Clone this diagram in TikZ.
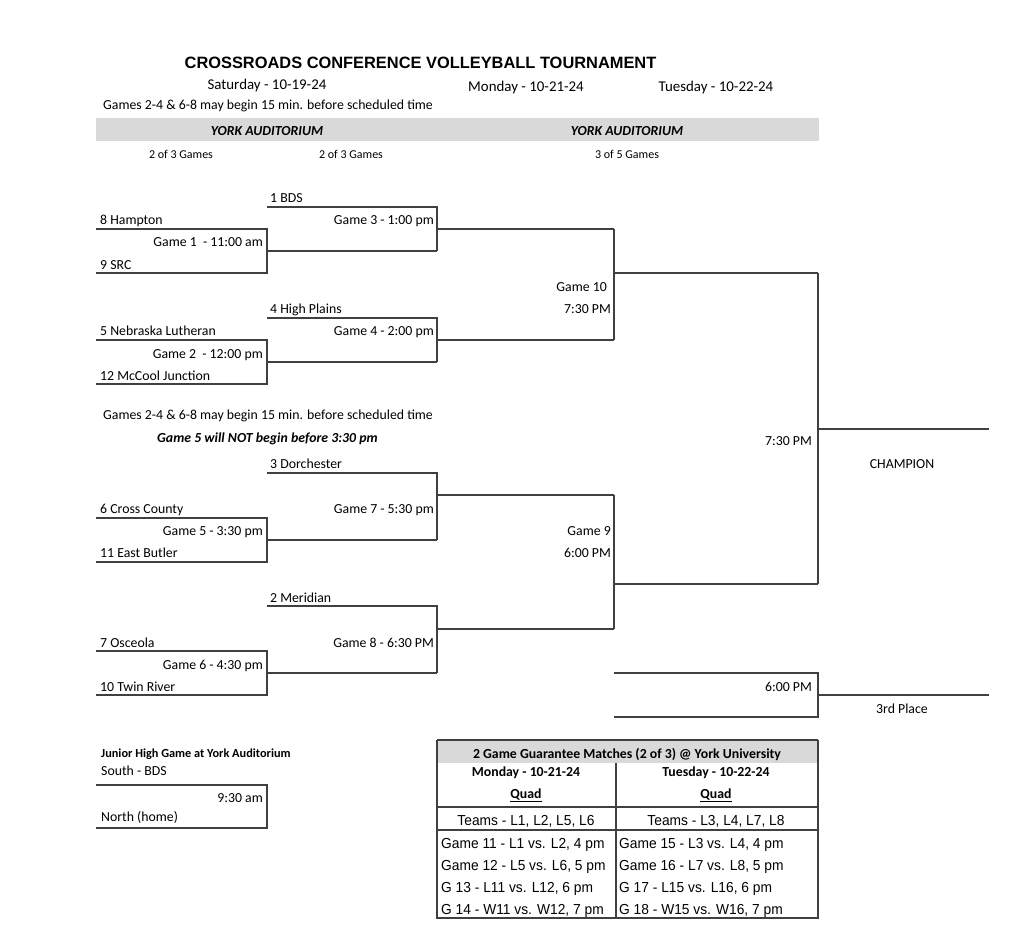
\documentclass[tikz,border=0pt]{standalone}
\usepackage{fontspec}
\setmainfont{Carlito}
\newfontfamily\arialfont{Liberation Sans}
\newfontfamily\arialnarrow[FakeStretch=0.95]{Liberation Sans}
\definecolor{bandgray}{HTML}{D9D9D9}
\definecolor{linegray}{HTML}{404040}
\begin{document}
\begin{tikzpicture}[x=1pt,y=-1pt,
  ln/.style={line width=1.1pt, draw=linegray},
  tx/.style={inner sep=0pt, font=\fontsize{13.8}{16}\selectfont},
  tl/.style={tx, anchor=base west},
  tr/.style={tx, anchor=base east},
  tc/.style={tx, anchor=base},
  dates/.style={inner sep=0pt, anchor=base, font=\fontsize{14.9}{17}\selectfont},
  small/.style={inner sep=0pt, anchor=base, font=\fontsize{12}{14}\selectfont},
  tab/.style={inner sep=0pt, font=\arialnarrow\fontsize{14.5}{17}\selectfont},
  tabl/.style={tab, anchor=base west},
  tabc/.style={tab, anchor=base},
  tabb/.style={tx, anchor=base, font=\bfseries\fontsize{13.8}{16}\selectfont}
]
\useasboundingbox (0,0) rectangle (1024,948);

% ---------- header ----------
\node[inner sep=0pt, anchor=base, font=\arialfont\bfseries\fontsize{16.4}{19}\selectfont] (title) at (420.5,68.7) {CROSSROADS CONFERENCE VOLLEYBALL TOURNAMENT};
\node[dates] (sat) at (267,89.5) {Saturday - 10-19-24};
\node[dates] (mon) at (526,91.7) {Monday - 10-21-24};
\node[dates] (tue) at (716,91.7) {Tuesday - 10-22-24};
\node[tl] (note1) at (103,109.3) {Games 2-4 \& 6-8 may begin 15 min. before scheduled time};
\fill[bandgray] (96,118) rectangle (819,141);
\node[tc, font=\bfseries\itshape\fontsize{13.8}{16}\selectfont] (york1) at (267,135.3) {YORK AUDITORIUM};
\node[tc, font=\bfseries\itshape\fontsize{13.8}{16}\selectfont] (york2) at (627,135.3) {YORK AUDITORIUM};
\node[small] (g3a) at (181,158.9) {2 of 3 Games};
\node[small] (g3b) at (351,158.9) {2 of 3 Games};
\node[small] (g5) at (627,158.9) {3 of 5 Games};

% ---------- top half bracket ----------
\draw[ln] (96,229) -- (267,229) -- (267,273) -- (96,273);
\draw[ln] (267,251) -- (437,251);
\draw[ln] (267,207) -- (437,207) -- (437,251);
\draw[ln] (437,229) -- (614,229);
\draw[ln] (96,340) -- (267,340) -- (267,384) -- (96,384);
\draw[ln] (267,362) -- (437,362);
\draw[ln] (267,318) -- (437,318) -- (437,362);
\draw[ln] (437,340) -- (614,340);
\draw[ln] (614,229) -- (614,340);
\draw[ln] (614,273) -- (818,273);

\node[tl] (bds) at (270,202.3) {1 BDS};
\node[tl] (hampton) at (100,224.3) {8 Hampton};
\node[tr] (game3) at (434,224.3) {Game 3 - 1:00 pm};
\node[tr] (game1) at (263,246.3) {Game 1 \ - 11:00 am};
\node[tl] (src) at (100,269.3) {9 SRC};
\node[tr] (game10) at (607,291.3) {Game 10};
\node[tr] (time10) at (611,313.3) {7:30 PM};
\node[tl] (highplains) at (270,313.3) {4 High Plains};
\node[tl] (nebraska) at (100,335.3) {5 Nebraska Lutheran};
\node[tr] (game4) at (434,335.3) {Game 4 - 2:00 pm};
\node[tr] (game2) at (263,358.3) {Game 2 \ - 12:00 pm};
\node[tl] (mccool) at (100,380.3) {12 McCool Junction};

\node[tl] (note2) at (103,419.3) {Games 2-4 \& 6-8 may begin 15 min. before scheduled time};
\node[tl, font=\bfseries\itshape\fontsize{13.8}{16}\selectfont] (note3) at (157,442.3) {Game 5 will NOT begin before 3:30 pm};

% ---------- bottom half bracket ----------
\draw[ln] (96,518) -- (267,518) -- (267,562) -- (96,562);
\draw[ln] (267,540) -- (437,540);
\draw[ln] (267,473) -- (437,473) -- (437,540);
\draw[ln] (437,495) -- (614,495);
\draw[ln] (96,651) -- (267,651) -- (267,695) -- (96,695);
\draw[ln] (267,673) -- (437,673);
\draw[ln] (267,606) -- (437,606) -- (437,673);
\draw[ln] (437,629) -- (614,629);
\draw[ln] (614,495) -- (614,629);
\draw[ln] (614,584) -- (818,584);

\node[tl] (dorchester) at (270,468.3) {3 Dorchester};
\node[tl] (cross) at (100,513.3) {6 Cross County};
\node[tr] (game7) at (434,513.3) {Game 7 - 5:30 pm};
\node[tr] (game5) at (263,535.3) {Game 5 - 3:30 pm};
\node[tl] (eastbutler) at (100,557.3) {11 East Butler};
\node[tr] (game9) at (611,535.3) {Game 9};
\node[tr] (time9) at (611,557.3) {6:00 PM};
\node[tl] (meridian) at (270,602.3) {2 Meridian};
\node[tl] (osceola) at (100,647.3) {7 Osceola};
\node[tr] (game8) at (434,647.3) {Game 8 - 6:30 PM};
\node[tr] (game6) at (263,669.3) {Game 6 - 4:30 pm};
\node[tl] (twinriver) at (100,691.3) {10 Twin River};

% ---------- final & 3rd place ----------
\draw[ln] (818,273) -- (818,584);
\draw[ln] (818,429) -- (989,429);
\node[tr] (finaltime) at (812,445.3) {7:30 PM};
\node[tc] (champion) at (902,468.3) {CHAMPION};

\draw[ln] (614,673) -- (818,673) -- (818,717) -- (614,717);
\draw[ln] (818,695) -- (989,695);
\node[tr] (thirdtime) at (812,691.3) {6:00 PM};
\node[tc] (third) at (902,713.3) {3rd Place};

% ---------- junior high ----------
\node[inner sep=0pt, anchor=base west, font=\bfseries\fontsize{12.3}{14}\selectfont] (jh) at (101,757.9) {Junior High Game at York Auditorium};
\node[tl] (south) at (101,775.3) {South - BDS};
\draw[ln] (96,785) -- (267,785) -- (267,828) -- (96,828);
\node[tr] (jhtime) at (263,802.3) {9:30 am};
\node[tl] (north) at (101,821.3) {North (home)};

% ---------- guarantee table ----------
\fill[bandgray] (437,740) rectangle (818,763);
\draw[ln, line width=1.6pt] (437,740) -- (818,740);
\draw[ln] (437,740) -- (437,918) -- (818,918) -- (818,740);
\draw[ln] (616,763) -- (616,918);
\draw[ln] (437,807) -- (818,807);
\draw[ln] (437,830) -- (818,830);
\node[tabb] (thead) at (627,758.3) {2 Game Guarantee Matches (2 of 3) @ York University};
\node[tabb] (tmon) at (526,776.3) {Monday - 10-21-24};
\node[tabb] (ttue) at (716,776.3) {Tuesday - 10-22-24};
\node[tabb] (quad1) at (526,798.3) {\underline{Quad}};
\node[tabb] (quad2) at (716,798.3) {\underline{Quad}};
\node[tabc] (teams1) at (526,825.8) {Teams - L1, L2, L5, L6};
\node[tabc] (teams2) at (716,825.8) {Teams - L3, L4, L7, L8};
\node[tabl] (r1a) at (441,848.3) {Game 11 - L1 vs. L2, 4 pm};
\node[tabl] (r2a) at (441,870.3) {Game 12 - L5 vs. L6, 5 pm};
\node[tabl] (r3a) at (441,892.3) {G 13 - L11 vs. L12, 6 pm};
\node[tabl] (r4a) at (441,914.3) {G 14 - W11 vs. W12, 7 pm};
\node[tabl] (r1b) at (619,848.3) {Game 15 - L3 vs. L4, 4 pm};
\node[tabl] (r2b) at (619,870.3) {Game 16 - L7 vs. L8, 5 pm};
\node[tabl] (r3b) at (619,892.3) {G 17 - L15 vs. L16, 6 pm};
\node[tabl] (r4b) at (619,914.3) {G 18 - W15 vs. W16, 7 pm};
\end{tikzpicture}
\end{document}
